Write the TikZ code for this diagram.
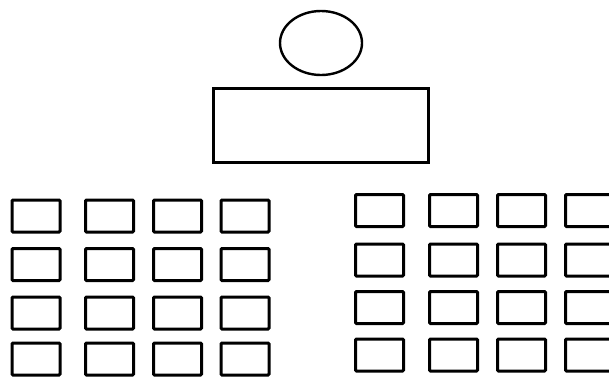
\documentclass[tikz,border=0pt]{standalone}
\usepackage{tikz}
\tikzset{
  seat/.style={rectangle,draw,line width=3pt,minimum width=48pt,minimum height=32pt,inner sep=0pt,rounded corners=1pt},
  teacher/.style={ellipse,draw,line width=2.4pt,minimum width=82pt,minimum height=64pt,inner sep=0pt},
  table/.style={rectangle,draw,line width=2.6pt,minimum width=215pt,minimum height=74pt,inner sep=0pt}
}
\usetikzlibrary{shapes.geometric}
\begin{document}
\begin{tikzpicture}[x=1pt,y=-1pt]
\useasboundingbox (0,0) rectangle (609,376);
\node[teacher] (t) at (321,43) {};
\node[table] (d) at (321,125.5) {};
% left group
\foreach \c/\x in {1/36,2/109.5,3/177.5,4/245}{
  \foreach \r/\y in {1/216,2/264.5,3/313,4/359}{
    \node[seat] (l\r\c) at (\x,\y) {};
  }
}
% right group
\foreach \c/\x in {1/379.5,2/453.5,3/521.5,4/589.5}{
  \foreach \r/\y in {1/210.5,2/260,3/307.5,4/355}{
    \node[seat] (r\r\c) at (\x,\y) {};
  }
}
\end{tikzpicture}
\end{document}
